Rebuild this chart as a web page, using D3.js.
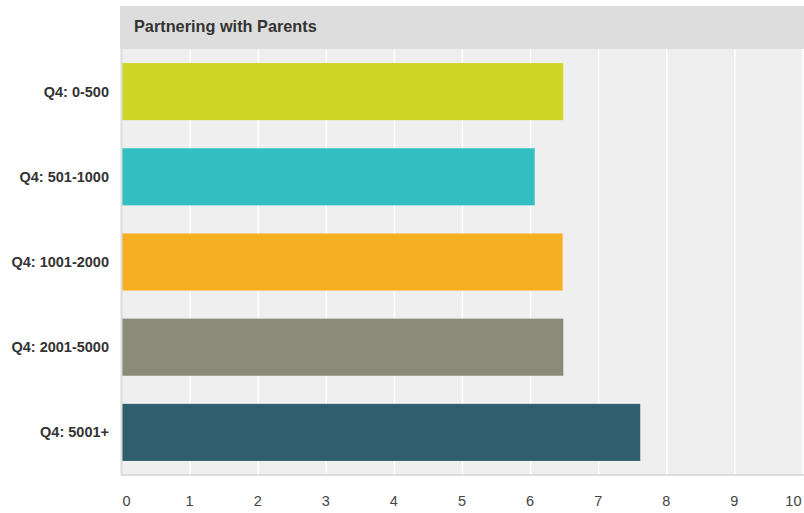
<!DOCTYPE html>
<html>
<head>
<meta charset="utf-8">
<script src="https://cdn.jsdelivr.net/npm/d3@7"></script>
<style>
  html, body { margin: 0; padding: 0; background: #ffffff; }
  svg { display: block; font-family: "Liberation Sans", Arial, sans-serif; }
</style>
</head>
<body>
<svg id="chart" width="804" height="513"></svg>
<script>
// Average scores by district size
const categories = ["Q4: 0-500", "Q4: 501-1000", "Q4: 1001-2000", "Q4: 2001-5000", "Q4: 5001+"];
const values = [6.48, 6.06, 6.47, 6.48, 7.61];
const barColors = ["#d0d626", "#33bfc1", "#f7ae21", "#8a8b79", "#2f5f6c"];
const tickValues = [0, 1, 2, 3, 4, 5, 6, 7, 8, 9, 10];
const chartTitle = "Partnering with Parents";

const svg = d3.select("#chart");
const W = 804, H = 513;
const plot = { left: 122, right: 803, top: 49, bottom: 475 };

const x = d3.scaleLinear().domain([0, 10]).range([plot.left, plot.right]);
const y = d3.scaleBand().domain(categories).range([plot.top, plot.bottom])
  .paddingInner(0.33).paddingOuter(0.165);

// Title header
svg.append("rect").attr("x", 120).attr("y", 6).attr("width", W - 120).attr("height", 43)
  .attr("fill", "#dddddd");
svg.append("text").attr("x", 134).attr("y", 32)
  .attr("font-size", 16.3).attr("font-weight", "bold").attr("fill", "#333333")
  .text(chartTitle);

// Plot background
svg.append("rect").attr("x", plot.left).attr("y", plot.top)
  .attr("width", plot.right - plot.left + 1).attr("height", plot.bottom - plot.top)
  .attr("fill", "#efefef");

// Vertical gridlines
svg.append("g").selectAll("line").data(tickValues.slice(1)).join("line")
  .attr("x1", d => x(d)).attr("x2", d => x(d))
  .attr("y1", plot.top).attr("y2", plot.bottom)
  .attr("stroke", "#ffffff").attr("stroke-width", 1.5);

// Bars
svg.append("g").selectAll("rect").data(values).join("rect")
  .attr("x", x(0))
  .attr("y", (d, i) => y(categories[i]))
  .attr("width", d => x(d) - x(0))
  .attr("height", y.bandwidth())
  .attr("fill", (d, i) => barColors[i]);

// Left and bottom frame lines
svg.append("line").attr("x1", 121.5).attr("x2", 121.5).attr("y1", plot.top).attr("y2", plot.bottom + 1)
  .attr("stroke", "#dcdcdc").attr("stroke-width", 2);
svg.append("line").attr("x1", 121).attr("x2", W).attr("y1", plot.bottom).attr("y2", plot.bottom)
  .attr("stroke", "#dcdcdc").attr("stroke-width", 2);

// Category labels
svg.append("g").selectAll("text").data(categories).join("text")
  .attr("x", 109)
  .attr("y", d => y(d) + y.bandwidth() / 2)
  .attr("dy", "0.35em")
  .attr("text-anchor", "end")
  .attr("font-size", 14.5).attr("font-weight", "bold").attr("fill", "#333333")
  .text(d => d);

// X axis tick labels
const xAxis = d3.axisBottom(x).tickValues(tickValues).tickSize(0).tickPadding(0);
const gx = svg.append("g").attr("transform", `translate(0, 506)`).call(xAxis);
gx.select(".domain").remove();
gx.selectAll("text")
  .attr("x", -1).attr("y", 0).attr("dy", 0)
  .attr("font-size", 14.5).attr("fill", "#444444")
  .attr("font-family", "\"Liberation Sans\", Arial, sans-serif");
gx.selectAll(".tick").filter(d => d === 0).select("text")
  .attr("text-anchor", "start").attr("x", 0);
gx.selectAll(".tick").filter(d => d === 10).select("text")
  .attr("text-anchor", "end").attr("x", -2);
</script>
</body>
</html>
